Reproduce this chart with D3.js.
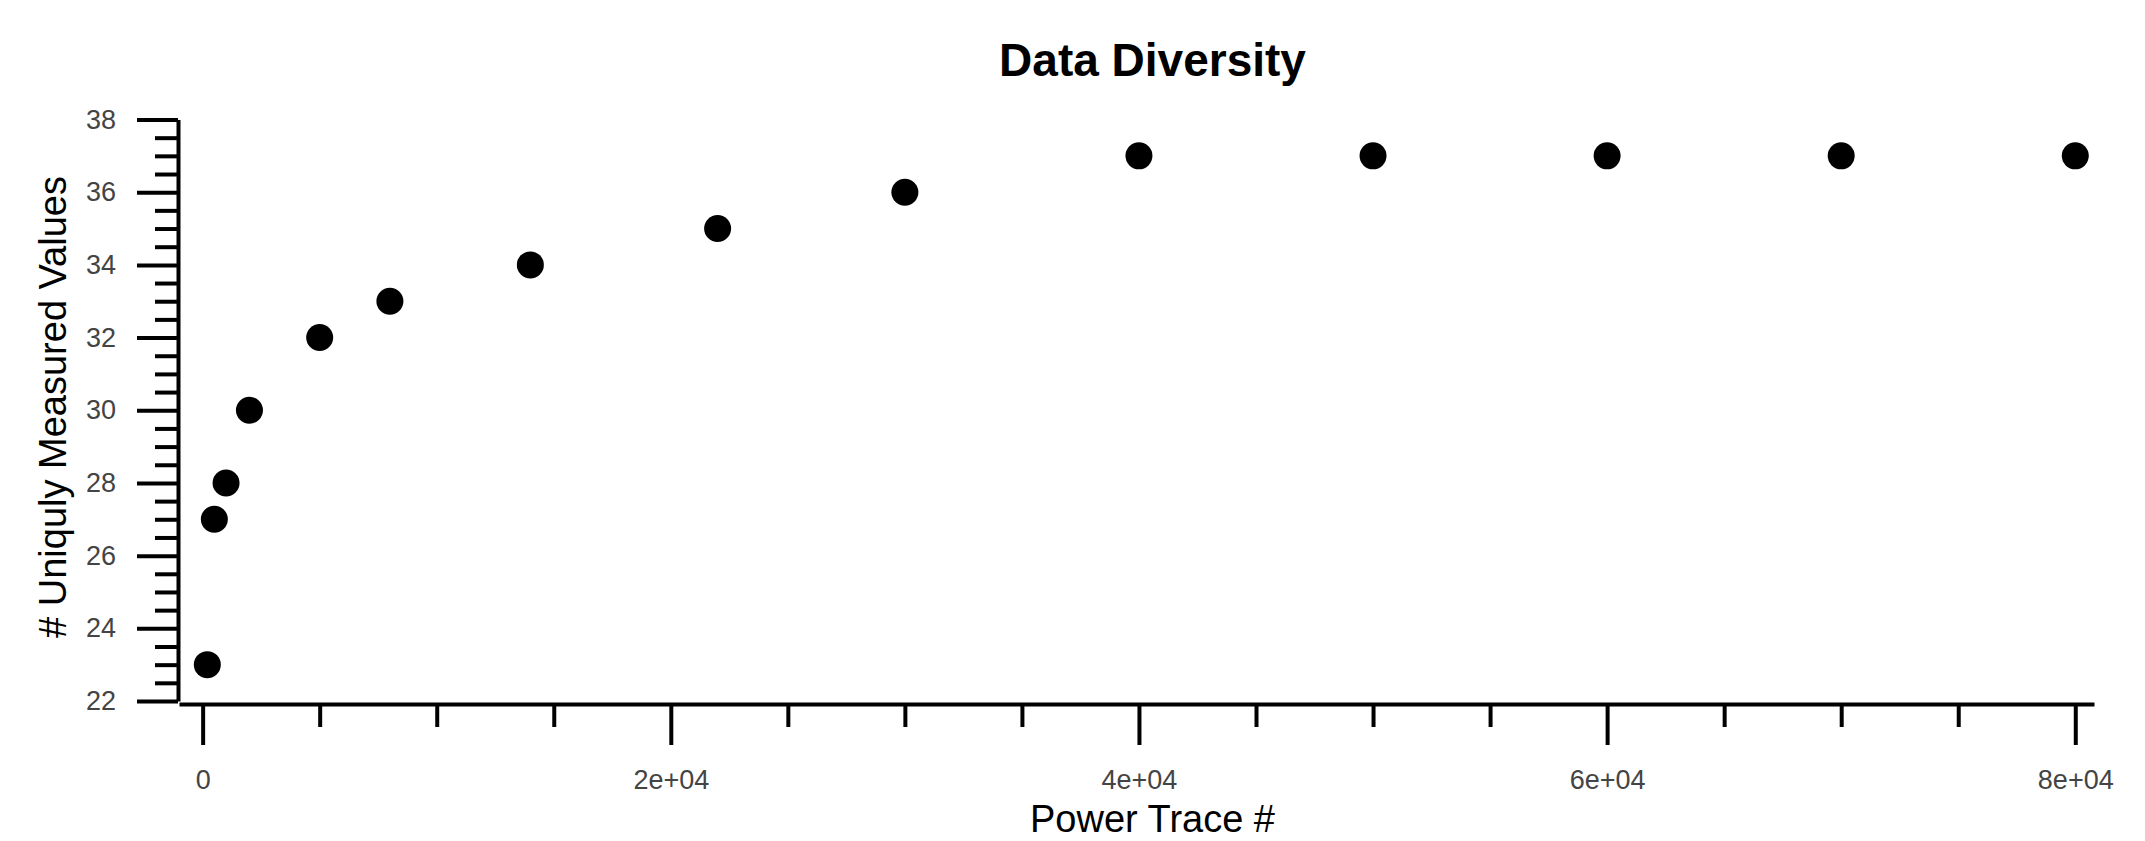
<!DOCTYPE html>
<html>
<head>
<meta charset="utf-8">
<script src="https://cdn.jsdelivr.net/npm/d3@7"></script>
<style>
  html, body { margin: 0; padding: 0; background: #fff; }
  svg { display: block; font-family: "Liberation Sans", Arial, sans-serif; }
</style>
</head>
<body>
<div id="chart"></div>
<script>
// data
const traceCounts = [200, 500, 1000, 2000, 5000, 8000, 14000, 22000, 30000, 40000, 50000, 60000, 70000, 80000];
const uniqueValues = [23, 27, 28, 30, 32, 33, 34, 35, 36, 37, 37, 37, 37, 37];

const xTickValues = [0, 20000, 40000, 60000, 80000];
const xTickLabels = ["0", "2e+04", "4e+04", "6e+04", "8e+04"];
const xMinorTicks = d3.range(0, 80001, 5000).filter(v => !xTickValues.includes(v));

const yTickValues = [22, 24, 26, 28, 30, 32, 34, 36, 38];
const yMinorTicks = d3.range(22, 38.01, 0.5).filter(v => !yTickValues.includes(v));

const width = 2145;
const height = 841;

const svg = d3.select("#chart")
  .append("svg")
  .attr("width", width)
  .attr("height", height);

// x axis line runs a bit past the data on both sides
const x = d3.scaleLinear()
  .domain([-1010, 80800])
  .range([179, 2094]);

const y = d3.scaleLinear()
  .domain([22, 38])
  .range([701, 119.5]);

const xAxisY = 704;
const yAxisX = 178;

// minor ticks first, majors on top
svg.append("g")
  .attr("transform", `translate(0,${xAxisY})`)
  .call(d3.axisBottom(x).tickValues(xMinorTicks).tickSize(23).tickSizeOuter(0).tickFormat(""))
  .call(g => g.select(".domain").remove());

svg.append("g")
  .attr("class", "x-axis")
  .attr("transform", `translate(0,${xAxisY})`)
  .call(d3.axisBottom(x)
    .tickValues(xTickValues)
    .tickSize(41)
    .tickSizeOuter(0)
    .tickPadding(25)
    .tickFormat((d, i) => xTickLabels[i]));

svg.append("g")
  .attr("transform", `translate(${yAxisX},0)`)
  .call(d3.axisLeft(y).tickValues(yMinorTicks).tickSize(23).tickSizeOuter(0).tickFormat(""))
  .call(g => g.select(".domain").remove());

svg.append("g")
  .attr("class", "y-axis")
  .attr("transform", `translate(${yAxisX},0)`)
  .call(d3.axisLeft(y)
    .tickValues(yTickValues)
    .tickSize(41)
    .tickSizeOuter(0)
    .tickPadding(21)
    .tickFormat(d3.format("d")));

svg.selectAll(".tick line, .domain")
  .attr("stroke", "#000")
  .attr("stroke-width", 4);

svg.selectAll(".tick text")
  .attr("fill", "#444")
  .style("font-size", "27px")
  .style("font-family", "'Liberation Sans', Arial, sans-serif");

// points
svg.append("g")
  .selectAll("circle")
  .data(traceCounts.map((t, i) => ({ t, v: uniqueValues[i] })))
  .enter()
  .append("circle")
  .attr("cx", d => x(d.t))
  .attr("cy", d => y(d.v))
  .attr("r", 13.5)
  .attr("fill", "#000");

// title + axis labels
svg.append("text")
  .attr("x", 1152.5)
  .attr("y", 76)
  .attr("text-anchor", "middle")
  .style("font-size", "46px")
  .style("font-weight", "bold")
  .text("Data Diversity");

svg.append("text")
  .attr("x", 1152.5)
  .attr("y", 832)
  .attr("text-anchor", "middle")
  .style("font-size", "38px")
  .text("Power Trace #");

svg.append("text")
  .attr("transform", `translate(66,407) rotate(-90)`)
  .attr("text-anchor", "middle")
  .style("font-size", "38px")
  .text("# Uniquly Measured Values");
</script>
</body>
</html>
